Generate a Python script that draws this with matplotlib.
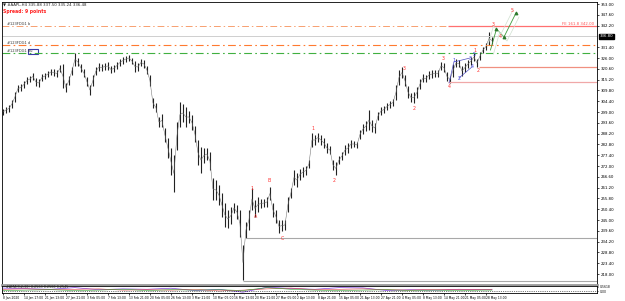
import numpy as np
import matplotlib.pyplot as plt
from matplotlib.patches import Rectangle

# H4 bars, highs / lows (price)
hi = [300.5, 301.5, 302.5, 305.0, 309.0, 312.5, 313.0, 314.5, 316.5, 317.0,
      318.5, 316.0, 315.5, 318.0, 318.5, 319.5, 320.5, 320.5, 320.0, 322.5,
      323.0, 313.5, 317.0, 321.5, 328.5, 326.0, 323.0, 320.5, 316.5, 312.5,
      317.5, 321.5, 323.5, 323.0, 323.5, 324.0, 322.0, 322.5, 324.0, 325.5,
      326.5, 327.0, 327.5, 326.0, 324.5, 323.5, 325.5, 325.0, 322.0, 317.5,
      306.0, 303.5, 296.5, 298.0, 291.0, 286.0, 281.0, 277.5, 294.0, 304.0,
      303.0, 301.5, 299.5, 297.5, 292.0, 285.0, 281.5, 281.0, 281.0, 279.0,
      266.0, 265.0, 262.5, 258.5, 253.5, 250.0, 251.5, 253.5, 252.5, 250.0,
      232.5, 244.0, 250.0, 261.0, 255.0, 256.5, 255.5, 255.5, 256.5, 261.5,
      253.5, 250.0, 245.0, 245.0, 245.0, 256.5, 261.0, 270.0, 268.5, 270.5,
      271.5, 272.0, 275.0, 288.5, 287.5, 288.5, 287.5, 286.0, 283.5, 282.0,
      275.0, 274.0, 277.0, 279.0, 282.5, 283.5, 285.0, 284.5, 284.0, 290.0,
      293.0, 294.5, 300.0, 295.0, 293.5, 299.0, 301.5, 302.0, 303.5, 304.5,
      305.5, 312.5, 320.0, 321.5, 317.5, 312.0, 308.5, 309.0, 311.5, 315.5,
      318.0, 317.5, 319.5, 320.0, 320.0, 320.0, 324.0, 323.5, 319.0, 317.0,
      323.0, 325.5, 325.0, 322.0, 323.5, 325.0, 326.5, 328.5, 325.5, 329.0,
      331.5, 333.5, 339.0, 336.5]
lo = [297.5, 298.5, 299.0, 301.0, 304.0, 309.0, 309.5, 311.0, 313.0, 314.0,
      315.0, 312.0, 311.5, 314.5, 315.5, 316.5, 317.5, 317.0, 316.5, 319.0,
      311.0, 309.0, 312.5, 317.5, 322.0, 322.0, 319.0, 316.5, 312.0, 307.5,
      312.0, 317.5, 319.5, 319.5, 320.0, 320.0, 318.5, 319.0, 320.5, 322.0,
      323.0, 324.0, 324.5, 323.0, 319.0, 319.5, 322.0, 321.0, 318.0, 312.0,
      301.0, 299.0, 291.5, 291.5, 284.0, 276.0, 267.5, 259.0, 280.0, 291.5,
      294.0, 291.5, 293.5, 290.0, 284.0, 272.5, 268.5, 273.5, 275.0, 270.0,
      255.0, 255.0, 252.5, 246.5, 241.5, 241.0, 243.0, 248.5, 245.5, 236.5,
      215.0, 236.0, 240.0, 250.0, 246.5, 249.0, 251.0, 251.5, 251.5, 255.0,
      246.5, 243.5, 238.5, 239.5, 240.0, 249.0, 256.0, 262.5, 261.5, 265.0,
      266.5, 267.5, 271.0, 281.5, 282.5, 284.0, 282.5, 281.0, 278.5, 278.0,
      270.0, 267.5, 273.0, 275.0, 277.5, 278.5, 281.0, 281.5, 281.0, 285.5,
      288.0, 289.5, 290.0, 289.0, 288.5, 295.0, 297.5, 298.5, 300.0, 301.0,
      302.0, 305.0, 312.5, 316.0, 312.0, 306.0, 304.0, 303.5, 306.0, 310.5,
      314.0, 314.0, 315.5, 316.0, 316.5, 316.5, 320.0, 319.0, 314.5, 313.5,
      316.5, 321.5, 321.5, 317.0, 319.0, 321.0, 322.5, 324.5, 321.5, 325.0,
      328.5, 330.0, 332.5, 333.0]

price_ticks = [353.00, 347.60, 342.20, 331.40, 326.00, 320.60, 315.20,
               309.80, 304.40, 299.00, 293.60, 288.20, 282.80, 277.40, 272.00,
               266.60, 261.20, 255.80, 250.40, 245.00, 239.60, 234.20, 228.80,
               223.40, 218.00]
last_price = 336.80

time_labels = ["8 Jan 2020", "14 Jan 17:00", "21 Jan 13:00", "27 Jan 21:00",
               "3 Feb 05:00", "7 Feb 13:00", "13 Feb 21:00", "20 Feb 05:00",
               "26 Feb 13:00", "3 Mar 21:00", "10 Mar 05:00", "16 Mar 13:00",
               "20 Mar 21:00", "27 Mar 05:00", "2 Apr 13:00", "8 Apr 21:00",
               "15 Apr 05:00", "21 Apr 13:00", "27 Apr 21:00", "4 May 05:00",
               "8 May 13:00", "14 May 21:00", "21 May 05:00", "28 May 13:00"]

# wave labels: text, bar, price, colour
waves = [("1", 83.0, 261.0, "r"), ("A", 84.3, 247.0, "r"), ("B", 88.7, 264.5, "r"),
         ("C", 93.0, 235.5, "r"), ("1", 103.3, 290.5, "r"), ("2", 110.3, 264.5, "r"),
         ("3", 133.7, 321.0, "r"), ("2", 137.0, 300.5, "r"), ("3", 146.7, 326.0, "r"),
         ("4", 148.7, 312.0, "r"), ("1", 150.3, 324.5, "b"), ("2", 152.0, 315.5, "b"),
         ("3", 155.7, 326.0, "b"), ("4", 156.3, 321.5, "b"), ("5", 157.0, 327.5, "b"),
         ("1", 157.3, 330.0, "r"), ("2", 158.3, 319.5, "r"), ("3", 163.3, 343.0, "r"),
         ("4", 165.7, 336.5, "r"), ("5", 169.7, 349.5, "r")]

# projected path (green)
proj_x = [162.5, 164.5, 167.0, 171.0]
proj_p = [330.0, 340.5, 336.5, 348.5]

# indicator sub window
ind_x = [0, 8, 16, 24, 32, 40, 48, 56, 64, 72, 80, 88, 96, 104, 112, 120, 128, 136, 144, 152, 160, 163]
ind_a = [0.70, 0.62, 0.55, 0.75, 0.50, 0.60, 0.55, 0.68, 0.40, 0.55, 0.20, 0.80, 0.65, 0.55, 0.75, 0.72, 0.40, 0.50, 0.45, 0.55, 0.50, 0.55]
ind_b = [0.55, 0.60, 0.50, 0.55, 0.60, 0.45, 0.50, 0.45, 0.55, 0.35, 0.45, 0.60, 0.70, 0.50, 0.55, 0.60, 0.50, 0.45, 0.55, 0.50, 0.55, 0.50]
ind_c = [0.40, 0.45, 0.50, 0.40, 0.45, 0.55, 0.40, 0.50, 0.45, 0.50, 0.40, 0.75, 0.55, 0.45, 0.40, 0.45, 0.50, 0.40, 0.45, 0.40, 0.45, 0.45]

W, H = 625, 301
fig = plt.figure(figsize=(W / 100, H / 100), dpi=100)
fig.patch.set_facecolor("white")

ax = fig.add_axes([2 / W, 1 - 285 / H, 595 / W, 283 / H])
bars = np.arange(len(hi))
ax.vlines(bars, lo, hi, color="#222222", lw=0.8)
ax.plot(bars, (np.array(hi) + np.array(lo)) / 2, color="#6a6a6a", lw=0.35)
ax.set_xlim(-0.3, 198.0)
ax.set_ylim(212.5, 354.0)

# level lines
dd = (0, (7, 3, 1.5, 3))
ax.axhline(342.0, color="#f7a070", lw=0.7, ls=dd)
ax.axhline(last_price, color="#cfcfcf", lw=0.7)
ax.axhline(332.5, color="#ff7a30", lw=0.8, ls=dd)
ax.axhline(328.5, color="#40b040", lw=0.8, ls=dd)
ax.hlines(342.0, 148.3, 198.0, color="#ff7070", lw=0.9)
ax.hlines(321.5, 158.7, 198.0, color="#f09080", lw=0.9)
ax.hlines(314.0, 148.3, 198.0, color="#f0a8a8", lw=0.9)
ax.hlines(236.0, 81.0, 198.0, color="#a8a8a8", lw=0.8)
ax.hlines(214.5, 80.0, 198.0, color="#a8a8a8", lw=0.8)

ax.text(1.5, 342.6, "#123FDG1 b", fontsize=2.6, color="#333333")
ax.text(1.5, 333.1, "#123FDG1 d", fontsize=2.6, color="#333333")
ax.text(1.5, 329.1, "#123FDG1 bu", fontsize=2.6, color="#333333")
ax.add_patch(Rectangle((8.3, 327.8), 3.4, 2.6, facecolor="white", edgecolor="#3a3aa8", lw=0.8))
ax.text(197.0, 342.4, "FE 161.8 342.00", fontsize=2.8, color="#ff5050", ha="right")

# wave structure lines
ax.plot([148.7, 150.3, 155.7], [313.5, 324.0, 326.0], color="#5050c0", lw=0.5)
ax.plot([152.0, 156.3], [316.0, 321.5], color="#5050c0", lw=0.5)
ax.plot(proj_x, proj_p, color="#3c9a3c", lw=0.6)
ax.plot(np.array(proj_x) + 1.0, np.array(proj_p) - 2.0, color="#cfe0cf", lw=0.5)
ax.plot(np.array(proj_x) - 1.0, np.array(proj_p) + 1.5, color="#cfe0cf", lw=0.5)
ax.scatter(proj_x[1:], proj_p[1:], marker="^", s=3, color="#2d7a2d", zorder=3)

for t, x, p, c in waves:
    ax.text(x, p, t, fontsize=3.4, color="#ff3030" if c == "r" else "#4040e0",
            ha="center", va="center")

ax.yaxis.tick_right()
ax.set_yticks(price_ticks)
ax.set_yticklabels([f"{v:.2f}" for v in price_ticks], fontsize=2.8)
ax.tick_params(axis="y", length=1.5, width=0.5, pad=1.5)
ax.set_xticks([])
for s in ax.spines.values():
    s.set_linewidth(0.6)
ax.spines["bottom"].set_color("#9a9a9a")
ax.spines["bottom"].set_linewidth(2.0)
ax.text(1.004, last_price, f"{last_price:.2f}", transform=ax.get_yaxis_transform(),
        fontsize=2.8, color="white", va="center", ha="left",
        bbox=dict(boxstyle="square,pad=0.15", facecolor="black", edgecolor="black"))

fig.text(3 / W, 1 - 5 / H, "\u25bc #AAPL,H4 335.88 337.50 335.24 336.48", fontsize=2.8,
         va="center", color="#222222")
fig.text(3 / W, 1 - 11 / H, "Spread: 9 points", fontsize=3.3, va="center",
         color="#ff2020", fontweight="bold")

# indicator
ax2 = fig.add_axes([2 / W, 1 - 293 / H, 595 / W, 7 / H])
ax2.plot(ind_x, ind_a, color="#8040e0", lw=0.5)
ax2.plot(ind_x, ind_b, color="#e04040", lw=0.4)
ax2.plot(ind_x, ind_c, color="#30a030", lw=0.4)
ax2.axhline(0.3, color="black", lw=0.5, ls=":")
ax2.set_xlim(-0.3, 198.0)
ax2.set_ylim(0.1, 0.95)
ax2.text(1.0, 0.78, "#AMA(9,2,30) 0.2563 0.2560 0.2545", fontsize=2.4, color="#222222", va="center")
ax2.yaxis.tick_right()
ax2.set_yticks([0.3, 0.85])
ax2.set_yticklabels(["0.00", "0.5618"], fontsize=2.2)
ax2.tick_params(axis="y", length=1.0, width=0.5, pad=1.0)
ax2.set_xticks(np.arange(0, 7 * len(time_labels), 7))
ax2.set_xticklabels(time_labels, fontsize=2.2, ha="left")
ax2.tick_params(axis="x", length=1.5, width=0.5, pad=1.0)
for s in ax2.spines.values():
    s.set_linewidth(0.6)

fig.savefig("out.png", dpi=100, facecolor="white")
